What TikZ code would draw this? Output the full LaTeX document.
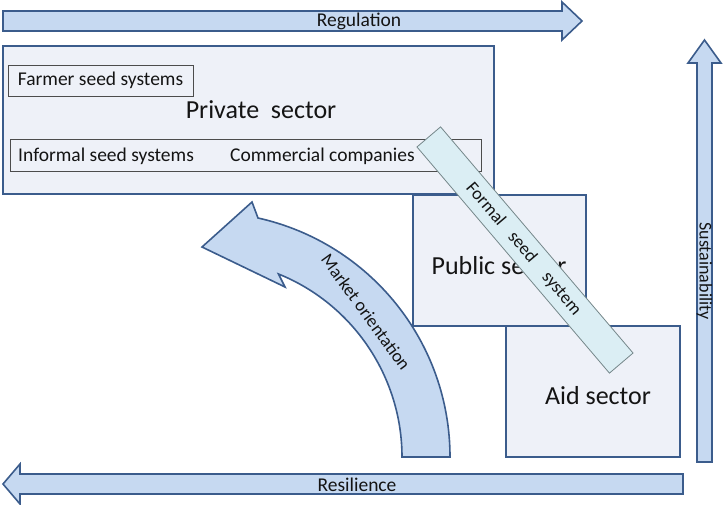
\documentclass[tikz,border=0pt]{standalone}
\usepackage{fontspec}
\setmainfont{Carlito}
\definecolor{boxfill}{HTML}{EEF1F8}
\definecolor{boxline}{HTML}{3B5C8C}
\definecolor{arrowfill}{HTML}{C6D9F1}
\definecolor{bandfill}{HTML}{DBEEF4}
\definecolor{bandline}{HTML}{75878A}
\definecolor{txt}{HTML}{141414}
\begin{document}
\begin{tikzpicture}[x=1pt,y=-1pt,text=txt,
  sector/.style={draw=boxline,line width=2pt,fill=boxfill,inner sep=0pt},
  subbox/.style={draw=black!70,line width=0.8pt,fill=boxfill,inner sep=0pt},
  bigarrow/.style={draw=boxline,line width=1.6pt,fill=arrowfill,line join=miter},
  band/.style={draw=bandline,line width=0.8pt,fill=bandfill,inner sep=0pt},
  big/.style={font=\fontsize{26}{30}\selectfont},
  small/.style={font=\fontsize{19.5}{23}\selectfont},
  arrowtext/.style={font=\fontsize{18}{22}\selectfont},
  flowtext/.style={font=\fontsize{19.5}{22}\selectfont}]
\useasboundingbox (0,0) rectangle (723,505);

\draw[bigarrow] (3,11) -- (562,11) -- (562,2) -- (582,21) -- (562,40) -- (562,31) -- (3,31) -- cycle;
\node[flowtext] (regulation) at (359,21) {Regulation};

\node[sector,minimum width=491pt,minimum height=148pt] (private) at (248.5,120) {};
\node[subbox,minimum width=185pt,minimum height=31pt] (farmer) at (100.5,80.5) {};
\node[small] (farmertext) at (farmer) {Farmer seed systems};
\node[big] (privatetext) at (261,110) {Private\ \ sector};
\node[subbox,minimum width=471pt,minimum height=32pt] (informal) at (245.5,155) {};
\node[small,anchor=west,inner sep=0pt] (informaltext) at (18,156) {Informal seed systems};
\node[small,anchor=west,inner sep=0pt] (commercial) at (230,156) {Commercial companies};

\node[sector,minimum width=173pt,minimum height=131pt] (public) at (499.5,260.5) {};
\node[big] (publictext) at (499,266) {Public sector};
\node[sector,minimum width=174pt,minimum height=131pt] (aid) at (593,391.5) {};
\node[big] (aidtext) at (598,396) {Aid sector};

\node[band,minimum width=297pt,minimum height=31pt,rotate=-49.6] (formal) at (525,250) {};
\node[arrowtext,rotate=-49.6] (formaltext) at (523.5,249) {Formal\hspace{14pt}seed\hspace{18pt}system};

\draw[bigarrow] (402,457) -- (450,457) .. controls (450,342) and (370,243) .. (258,218)
  -- (252,202) -- (202,247) -- (285,287) -- (278.5,274)
  .. controls (353,304) and (402,377) .. cycle;
\node[arrowtext,rotate=-54] (market) at (366,312) {Market orientation};

\draw[bigarrow] (697,462) -- (697,63) -- (688,63) -- (704.5,40) -- (721,63) -- (712,63) -- (712,462) -- cycle;
\node[arrowtext,rotate=-90] (sustain) at (704.5,271) {Sustainability};

\draw[bigarrow] (683,474) -- (20,474) -- (20,464) -- (3,484) -- (20,504) -- (20,494) -- (683,494) -- cycle;
\node[flowtext] (resilience) at (357,485) {Resilience};
\end{tikzpicture}
\end{document}
